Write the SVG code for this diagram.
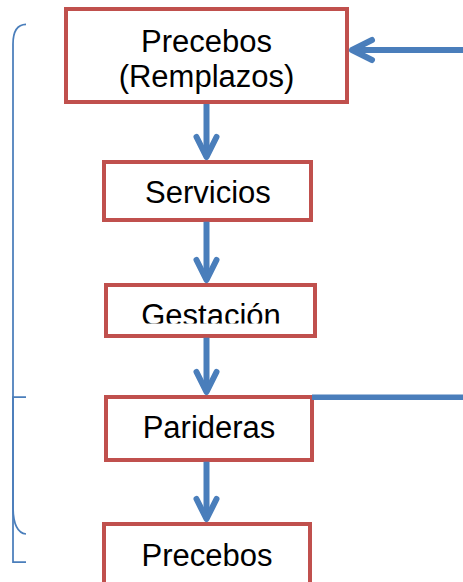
<svg xmlns="http://www.w3.org/2000/svg" width="463" height="582" viewBox="0 0 463 582">
<style>
.box{fill:#FFFFFF;stroke:#C0504D;stroke-width:4}
.lbl{font-family:"Liberation Sans",Arial,sans-serif;font-size:31px;fill:#000000;text-anchor:middle}
.conn{stroke:#4A7EBB;stroke-width:6;fill:none}
.brace{stroke:#4A7EBB;stroke-width:1.75;fill:none}
</style>
<defs>
<marker id="arr" markerUnits="userSpaceOnUse" viewBox="-30 -15 36 30" refX="0" refY="0" markerWidth="36" markerHeight="30" orient="auto" overflow="visible">
<path d="M-20,-10 L0,0 L-20,10" fill="none" stroke="#4A7EBB" stroke-width="6" stroke-linecap="round" stroke-linejoin="round"/>
</marker>
<clipPath id="clipG"><rect x="100" y="280" width="220" height="43.5"/></clipPath>
</defs>
<rect width="463" height="582" fill="#FFFFFF"/>
<g id="brace">
<path class="brace" d="M26,24.3 C17,24.5 13,32 13,44 L13,506 C13,524 17,533 26,534"/>
<path class="brace" d="M26,397 H13 V562 H26"/>
</g>
<g id="node-precebos-remplazos">
<rect class="box" x="66" y="9" width="281" height="93"/>
<text class="lbl" x="206.5" y="52">Precebos</text>
<text class="lbl" x="206.5" y="87">(Remplazos)</text>
</g>
<g id="node-servicios">
<rect class="box" x="104" y="162" width="207" height="58"/>
<text class="lbl" x="208" y="203">Servicios</text>
</g>
<g id="node-gestacion">
<rect class="box" x="106" y="285" width="209" height="51"/>
<text class="lbl" x="211" y="325.5" clip-path="url(#clipG)">Gestación</text>
</g>
<g id="node-parideras">
<rect class="box" x="106" y="397" width="206" height="63"/>
<text class="lbl" x="209" y="438">Parideras</text>
</g>
<g id="node-precebos">
<rect class="box" x="104" y="524" width="206" height="70"/>
<text class="lbl" x="207" y="566">Precebos</text>
</g>
<g id="connectors">
<line class="conn" x1="206.5" y1="104" x2="206.5" y2="157" marker-end="url(#arr)"/>
<line class="conn" x1="206.5" y1="221.7" x2="206.5" y2="280" marker-end="url(#arr)"/>
<line class="conn" x1="206.5" y1="337.7" x2="206.5" y2="392" marker-end="url(#arr)"/>
<line class="conn" x1="206.5" y1="461.7" x2="206.5" y2="519" marker-end="url(#arr)"/>
<line class="conn" x1="463" y1="50" x2="352" y2="50" marker-end="url(#arr)"/>
<line class="conn" x1="312" y1="397.3" x2="463" y2="397.3" style="stroke-width:5.5"/>
</g>
</svg>
